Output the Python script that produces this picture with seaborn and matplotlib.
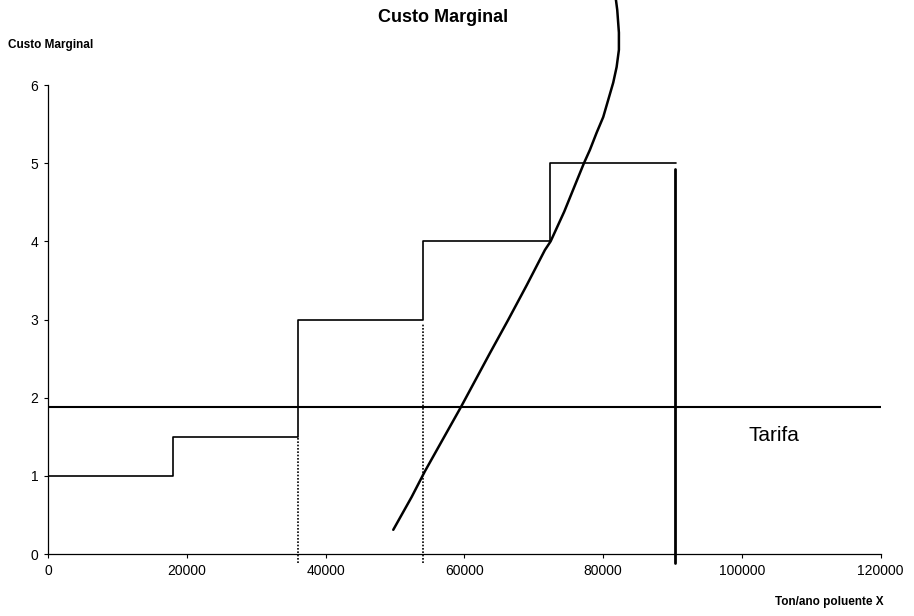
import matplotlib
matplotlib.use("Agg")
import matplotlib.pyplot as plt
import seaborn as sns
import pandas as pd

# step function of marginal cost (value holds from x until next x)
step_x = [0, 18000, 36000, 54000, 72400, 90500]
step_y = [1.0, 1.5, 3.0, 4.0, 5.0, 5.0]

# dotted drop lines (x, top)
drop_x = [36000, 54000]
drop_top = [1.5, 2.95]

# tariff
tarifa = 1.88

# limit line
limit_x = 90400
limit_top = 4.92

# marginal cost curve
curve_x = [49760, 52410, 54330, 56920, 59510, 63690, 66290, 69000, 71620, 72440,
           74400, 76230, 77240, 78100, 79070, 80020, 80740, 81460, 81950, 82280,
           82280, 82040, 81850, 81600]
curve_y = [0.31, 0.73, 1.06, 1.47, 1.88, 2.57, 2.99, 3.44, 3.89, 4.0,
           4.38, 4.78, 5.0, 5.17, 5.39, 5.59, 5.81, 6.03, 6.23, 6.45,
           6.67, 6.96, 7.09, 7.2]

x_ticks = [0, 20000, 40000, 60000, 80000, 100000, 120000]
y_ticks = [0, 1, 2, 3, 4, 5, 6]

sns.set_style("ticks")
plt.rcParams["font.family"] = ["Liberation Sans", "DejaVu Sans"]
plt.rcParams["text.color"] = "black"

fig = plt.figure(figsize=(9.14, 6.16), dpi=100)
ax = fig.add_axes([0.0525, 0.1006, 0.911, 0.7614])

steps = pd.DataFrame({"x": step_x, "y": step_y})
sns.lineplot(data=steps, x="x", y="y", ax=ax, color="black", linewidth=1.2,
             drawstyle="steps-post", estimator=None, sort=False)

for dx, top in zip(drop_x, drop_top):
    sns.lineplot(x=[dx, dx], y=[-0.12, top], ax=ax, color="black", linewidth=1.2,
                 linestyle=(0, (1, 1)), estimator=None, sort=False, clip_on=False)

sns.lineplot(x=[0, 120000], y=[tarifa, tarifa], ax=ax, color="black",
             linewidth=1.5, estimator=None, sort=False)

sns.lineplot(x=[limit_x, limit_x], y=[-0.12, limit_top], ax=ax, color="black",
             linewidth=2.0, estimator=None, sort=False, clip_on=False)

curve = pd.DataFrame({"x": curve_x, "y": curve_y})
sns.lineplot(data=curve, x="x", y="y", ax=ax, color="black", linewidth=1.8,
             estimator=None, sort=False, clip_on=False)

ax.set_xlim(0, 120000)
ax.set_ylim(0, 6)
ax.set_xticks(x_ticks)
ax.set_yticks(y_ticks)
ax.set_xticklabels([str(v) for v in x_ticks])
ax.set_yticklabels([str(v) for v in y_ticks])
ax.tick_params(labelsize=10, length=3, width=0.8, colors="black",
               labelcolor="black", pad=4)
ax.set_xlabel("")
ax.set_ylabel("")
for side in ["top", "right"]:
    ax.spines[side].set_visible(False)
for side in ["left", "bottom"]:
    ax.spines[side].set_linewidth(0.9)
    ax.spines[side].set_color("black")

ax.text(101000, 1.52, "Tarifa", fontsize=15, va="center", ha="left",
        color="black")

fig.text(443 / 914, 1 - 18 / 616, "Custo Marginal", fontsize=13,
         fontweight="bold", ha="center", va="center")
fig.text(8 / 914, 1 - 45 / 616, "Custo Marginal", fontsize=8.5,
         fontweight="bold", ha="left", va="center")
fig.text(884 / 914, 1 - 602 / 616, "Ton/ano poluente X", fontsize=8.5,
         fontweight="bold", ha="right", va="center")

fig.savefig("out.png", dpi=100)
